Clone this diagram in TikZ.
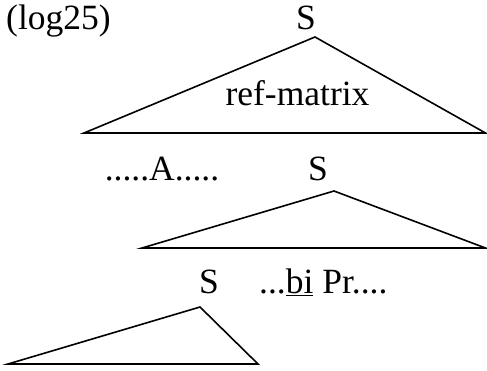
\documentclass[tikz,border=0pt]{standalone}
\usepackage{fontspec}
\setmainfont{Liberation Serif}
\begin{document}
\begin{tikzpicture}[x=1pt,y=-1pt,
  lbl/.style={inner sep=0pt,anchor=base,font=\fontsize{35.5}{40}\selectfont},
  tri/.style={line width=1.6pt,line join=miter}]
\useasboundingbox (0,0) rectangle (487,370);
\node[lbl,anchor=base west] (log) at (6,29) {(log25)};
\node[lbl] (s1) at (306,29) {S};
\node[lbl] (refm) at (297.5,105) {ref-matrix};
\node[lbl] (adots) at (162,180) {.....A.....};
\node[lbl] (s2) at (318,180) {S};
\node[lbl] (s3) at (209,293) {S};
\node[lbl,anchor=base west] (bipr) at (259,293) {...\underline{bi} Pr....};
\draw[tri] (315,37) -- (485.5,133) -- (84,133) -- cycle;
\draw[tri] (334,191) -- (485.5,248) -- (142,248) -- cycle;
\draw[tri] (200,307) -- (258,364) -- (8,364) -- cycle;
\end{tikzpicture}
\end{document}
